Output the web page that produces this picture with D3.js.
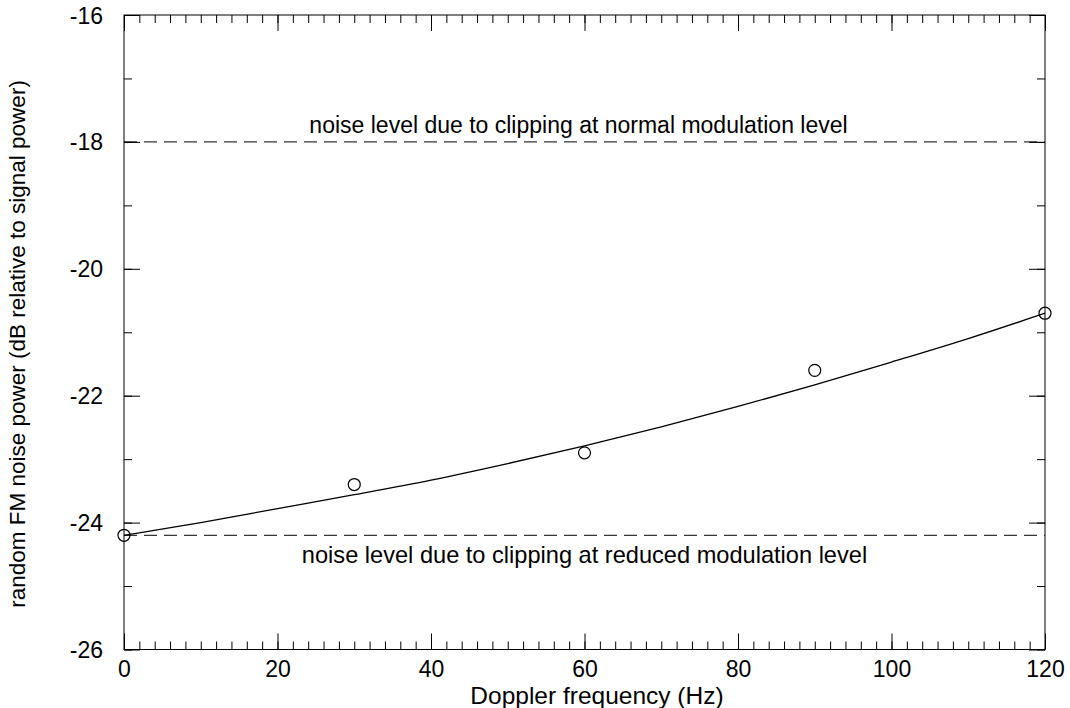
<!DOCTYPE html>
<html>
<head>
<meta charset="utf-8">
<script src="https://cdn.jsdelivr.net/npm/d3@7"></script>
<style>
  html, body { margin: 0; padding: 0; background: #fff; }
  svg { display: block; }
  text { font-family: "Liberation Sans", Arial, Helvetica, sans-serif; fill: #000; }
</style>
</head>
<body>
<svg id="chart" width="1070" height="708"></svg>
<script>
// ---- data ----
const measuredFreq = [0, 30, 60, 90, 120];
const measuredNoise = [-24.2, -23.4, -22.9, -21.6, -20.7];
const fitFreq = [0, 10, 20, 30, 40, 50, 60, 70, 80, 90, 100, 110, 120];
const fitNoise = [-24.20, -24.00, -23.78, -23.56, -23.33, -23.07, -22.79, -22.49, -22.17, -21.83, -21.47, -21.10, -20.70];
const referenceLevels = [-18, -24.2];
const referenceLabels = ["noise level due to clipping at normal modulation level",
                         "noise level due to clipping at reduced modulation level"];
const xTickValues = [0, 20, 40, 60, 80, 100, 120];
const yTickValues = [-26, -24, -22, -20, -18, -16];
const xLabel = "Doppler frequency (Hz)";
const yLabel = "random FM noise power (dB relative to signal power)";

// ---- layout ----
const L = 124, R = 1045, T = 15, B = 649.5;
const svg = d3.select("#chart");
const x = d3.scaleLinear().domain([0, 120]).range([L, R]);
const y = d3.scaleLinear().domain([-26, -16]).range([B, T]);
const fs = 23;
const fmt = d => String(d); // plain hyphen-minus like the reference

const xMinor = d3.range(0, 121, 2);
const yMinor = d3.range(-26, -15, 1);

// bottom axis
svg.append("g").attr("transform", `translate(0,${B})`)
  .call(d3.axisBottom(x).tickValues(xMinor).tickSize(-8).tickFormat(""))
  .call(g => g.select(".domain").remove());
svg.append("g").attr("transform", `translate(0,${B})`)
  .call(d3.axisBottom(x).tickValues(xTickValues).tickSize(-16).tickFormat(fmt))
  .call(g => g.select(".domain").remove())
  .call(g => g.selectAll("text").attr("font-size", fs).attr("dy", null).attr("y", 27));
// top axis
svg.append("g").attr("transform", `translate(0,${T})`)
  .call(d3.axisTop(x).tickValues(xMinor).tickSize(-8).tickFormat(""))
  .call(g => g.select(".domain").remove());
svg.append("g").attr("transform", `translate(0,${T})`)
  .call(d3.axisTop(x).tickValues(xTickValues).tickSize(-16).tickFormat(""))
  .call(g => g.select(".domain").remove());
// left axis
svg.append("g").attr("transform", `translate(${L},0)`)
  .call(d3.axisLeft(y).tickValues(yMinor).tickSize(-8).tickFormat(""))
  .call(g => g.select(".domain").remove());
svg.append("g").attr("transform", `translate(${L},0)`)
  .call(d3.axisLeft(y).tickValues(yTickValues).tickSize(-16).tickFormat(fmt))
  .call(g => g.select(".domain").remove())
  .call(g => g.selectAll("text").attr("font-size", fs).attr("x", -21).attr("dy", "0.35em"));
// right axis
svg.append("g").attr("transform", `translate(${R},0)`)
  .call(d3.axisRight(y).tickValues(yMinor).tickSize(-8).tickFormat(""))
  .call(g => g.select(".domain").remove());
svg.append("g").attr("transform", `translate(${R},0)`)
  .call(d3.axisRight(y).tickValues(yTickValues).tickSize(-16).tickFormat(""))
  .call(g => g.select(".domain").remove());

svg.selectAll(".tick line").attr("stroke", "#000").attr("stroke-width", 1);

// frame
svg.append("rect").attr("x", L).attr("y", T).attr("width", R - L).attr("height", B - T)
  .attr("fill", "none").attr("stroke", "#000").attr("stroke-width", 1);

// reference dashed lines
svg.append("g").selectAll("line").data(referenceLevels).join("line")
  .attr("x1", L).attr("x2", R)
  .attr("y1", d => y(d)).attr("y2", d => y(d))
  .attr("stroke", "#000").attr("stroke-width", 1).attr("stroke-dasharray", "13,7");

// annotations
svg.append("text").attr("x", (L + R) / 2 - 6).attr("y", 133).attr("text-anchor", "middle")
  .attr("font-size", fs).text(referenceLabels[0]);
svg.append("text").attr("x", (L + R) / 2).attr("y", 563).attr("text-anchor", "middle")
  .attr("font-size", 23.6).text(referenceLabels[1]);

// fitted curve
const fit = fitFreq.map((f, i) => [f, fitNoise[i]]);
svg.append("path").datum(fit)
  .attr("fill", "none").attr("stroke", "#000").attr("stroke-width", 1.3)
  .attr("d", d3.line().x(d => x(d[0])).y(d => y(d[1])).curve(d3.curveMonotoneX));

// measured points
const pts = measuredFreq.map((f, i) => [f, measuredNoise[i]]);
svg.append("g").selectAll("circle").data(pts).join("circle")
  .attr("cx", d => x(d[0])).attr("cy", d => y(d[1])).attr("r", 6)
  .attr("fill", "none").attr("stroke", "#000").attr("stroke-width", 1.2);

// axis titles
svg.append("text").attr("x", 597).attr("y", 704).attr("text-anchor", "middle")
  .attr("font-size", 24.5).text(xLabel);
svg.append("text").attr("transform", `translate(25,344) rotate(-90)`)
  .attr("text-anchor", "middle").attr("font-size", 22.5).text(yLabel);
</script>
</body>
</html>
